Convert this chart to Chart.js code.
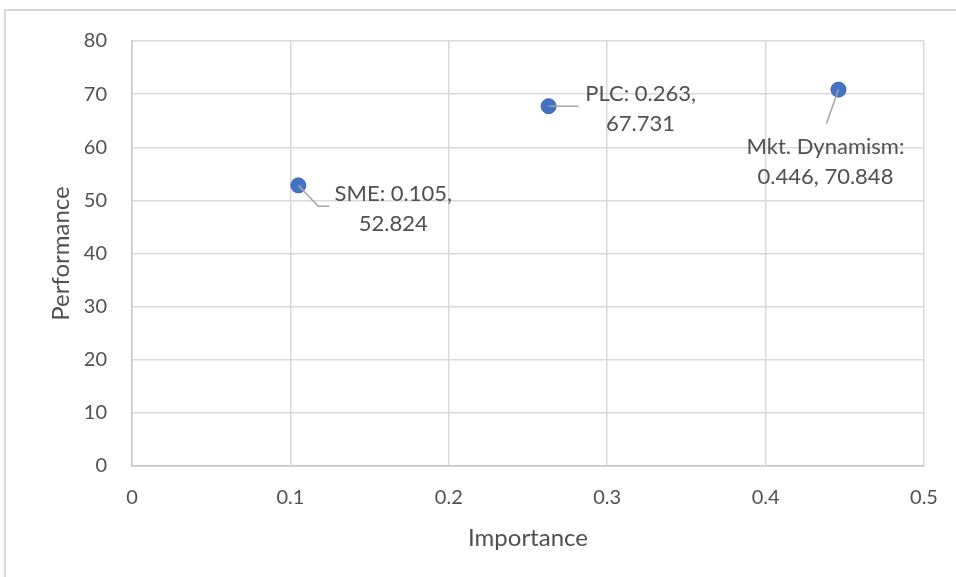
<!DOCTYPE html>
<html>
<head>
<meta charset="utf-8">
<script src="https://cdn.jsdelivr.net/npm/chart.js@4/dist/chart.umd.min.js"></script>
<style>
  html, body { margin: 0; padding: 0; background: #fff; }
  #wrap { position: relative; width: 956px; height: 577px; }
</style>
</head>
<body>
<div id="wrap"><canvas id="chart" width="956" height="577"></canvas></div>
<script>
// data
const names = ['SME', 'PLC', 'Mkt. Dynamism'];
const importance = [0.105, 0.263, 0.446];
const performance = [52.824, 67.731, 70.848];
const xTicks = [0, 0.1, 0.2, 0.3, 0.4, 0.5];
const yTicks = [0, 10, 20, 30, 40, 50, 60, 70, 80];

// label text lines, and where each label sits relative to its point (px)
const labelLines = [
    ['SME: 0.105,', '52.824'],
    ['PLC: 0.263,', '67.731'],
    ['Mkt. Dynamism:', '0.446, 70.848']
];
const labelOffsets = [
    { dx: 95, dy: 9, leader: [[20, 21], [31, 21]] },
    { dx: 92, dy: -12, leader: [[30, 0]] },
    { dx: -13, dy: 57, leader: [[-12, 34]] }
];

const FONT = 'Lato, "Open Sans", sans-serif';
const TEXT = '#505050';

const framePlugin = {
    id: 'frame',
    beforeDraw(chart) {
        const ctx = chart.ctx;
        ctx.save();
        ctx.strokeStyle = '#d9d9d9';
        ctx.lineWidth = 2;
        ctx.strokeRect(5, 10, 1000, 1000);
        ctx.restore();
    }
};

const labelPlugin = {
    id: 'pointLabels',
    afterDatasetsDraw(chart) {
        const ctx = chart.ctx;
        const meta = chart.getDatasetMeta(0);
        ctx.save();
        meta.data.forEach(function(pt, i) {
            const off = labelOffsets[i];
            // leader line
            ctx.strokeStyle = '#a6a6a6';
            ctx.lineWidth = 1.5;
            ctx.beginPath();
            ctx.moveTo(pt.x, pt.y);
            off.leader.forEach(function(p) { ctx.lineTo(pt.x + p[0], pt.y + p[1]); });
            ctx.stroke();
            // text
            ctx.fillStyle = TEXT;
            ctx.font = '22px ' + FONT;
            ctx.textAlign = 'center';
            ctx.textBaseline = 'middle';
            labelLines[i].forEach(function(line, j) {
                ctx.fillText(line, pt.x + off.dx, pt.y + off.dy + j * 30);
            });
        });
        ctx.restore();
    }
};

new Chart(document.getElementById('chart'), {
    type: 'scatter',
    data: {
        datasets: [{
            label: 'Importance vs Performance',
            data: importance.map((x, i) => ({ x: x, y: performance[i] })),
            backgroundColor: '#4472c4',
            borderColor: '#3a64b0',
            borderWidth: 1,
            pointRadius: 7.5,
            pointHoverRadius: 7.5
        }]
    },
    options: {
        responsive: false,
        animation: false,
        events: [],
        layout: { padding: { top: 41, right: 32, bottom: 0, left: 0 } },
        plugins: {
            legend: { display: false },
            tooltip: { enabled: false }
        },
        scales: {
            x: {
                type: 'linear',
                min: 0,
                max: 0.5,
                afterBuildTicks: function(scale) { scale.ticks = xTicks.map(v => ({ value: v })); },
                afterFit: function(scale) {
                    scale.height = 111;
                    scale.paddingLeft = 0;
                    scale.paddingRight = 0;
                },
                grid: { color: '#d9d9d9', lineWidth: 1.5, drawTicks: false },
                border: { color: '#c8c8c8', width: 1.5 },
                ticks: { color: TEXT, font: { family: FONT, size: 20 }, padding: 20 },
                title: {
                    display: true,
                    text: 'Importance',
                    color: TEXT,
                    font: { family: FONT, size: 24 },
                    padding: { top: 0, bottom: 24 }
                }
            },
            y: {
                type: 'linear',
                min: 0,
                max: 80,
                afterBuildTicks: function(scale) { scale.ticks = yTicks.map(v => ({ value: v })); },
                afterFit: function(scale) { scale.width = 132; },
                grid: { color: '#d9d9d9', lineWidth: 1.5, drawTicks: false },
                border: { color: '#c8c8c8', width: 1.5 },
                ticks: { color: TEXT, font: { family: FONT, size: 20 }, padding: 25 },
                title: {
                    display: true,
                    text: 'Performance',
                    color: TEXT,
                    font: { family: FONT, size: 24 },
                    padding: { top: 47, bottom: 0 }
                }
            }
        }
    },
    plugins: [framePlugin, labelPlugin]
});
</script>
</body>
</html>
